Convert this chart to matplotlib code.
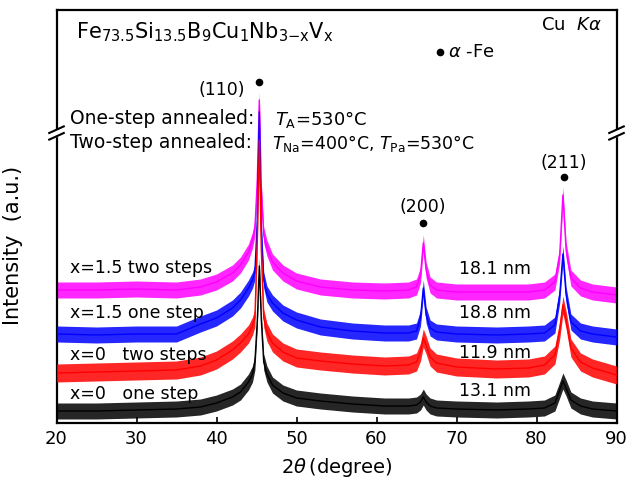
import matplotlib
matplotlib.use('Agg')
import matplotlib.pyplot as plt
from matplotlib.lines import Line2D

# ---------------- data (intensity in a.u.) ----------------
two_theta = [20, 25, 30, 35, 38, 40, 42, 43, 44, 44.5, 44.8, 45.1, 45.35, 45.6, 45.9,
             46.3, 47, 48.3, 50, 53, 57, 61, 64, 65.0, 65.5, 65.85, 66.2, 66.7, 67.5,
             70, 75, 79, 81, 82.3, 82.9, 83.3, 83.7, 84.3, 85.5, 87, 90]

x15_two_steps = [133, 133, 134, 133, 136, 141, 150, 158, 171, 183, 195, 243, 323, 233, 188,
                 175, 161, 150, 142, 136, 133, 132, 133, 136, 148, 180, 153, 138, 133,
                 131, 131, 131, 133, 141, 168, 228, 173, 145, 135, 131, 128]
x15_one_step = [89, 88, 89, 89, 99, 105, 115, 123, 135, 143, 151, 203, 311, 193, 143,
                129, 120, 110, 103, 96, 92, 90, 90, 92, 105, 135, 108, 95, 91,
                89, 88, 89, 90, 98, 128, 169, 128, 101, 92, 89, 86]
x0_two_steps = [50, 51, 52, 53, 57, 63, 73, 80, 89, 97, 105, 183, 283, 173, 105,
                91, 80, 71, 65, 62, 59, 57, 58, 61, 71, 85, 78, 66, 60,
                56, 54, 55, 58, 68, 93, 118, 103, 75, 61, 55, 48]
x0_one_step = [12, 12, 13, 14, 16, 20, 26, 31, 41, 49, 61, 103, 157, 103, 61,
               49, 38, 30, 25, 22, 19, 17, 17, 18, 21, 26, 21, 17, 15,
               14, 13, 14, 15, 20, 33, 42, 35, 23, 17, 14, 12]

# noise half-width of each trace (a.u.)
noise_halfwidth = [8, 8, 9, 8]

series_names = ['x=1.5 two steps', 'x=1.5 one step', 'x=0   two steps', 'x=0   one step']
grain_sizes = ['18.1 nm', '18.8 nm', '11.9 nm', '13.1 nm']
series_colors = ['#ff00ff', '#0000ff', '#ff0000', '#000000']
series_label_y = [155, 110, 68, 29]
size_label_y = [154, 110, 70, 32]

peak_positions = [45.3, 65.8, 83.4]
peak_labels = ['(110)', '(200)', '(211)']
peak_dot_y = [341, 200, 246]
peak_label_y = [333, 216, 260]

x_ticks = [20, 30, 40, 50, 60, 70, 80, 90]

# ---------------- figure ----------------
plt.rcParams['font.family'] = ['DejaVu Sans']
fig = plt.figure(figsize=(6.37, 4.86), dpi=100)
ax = fig.add_axes([56.5 / 637, 63 / 486, 560 / 637, 413 / 486])

all_series = [x15_two_steps, x15_one_step, x0_two_steps, x0_one_step]
for i, (ys, col, hw) in enumerate(zip(all_series, series_colors, noise_halfwidth)):
    lo = [v - hw for v in ys]
    hi = [v + hw for v in ys]
    ax.fill_between(two_theta, lo, hi, color=col, lw=0, alpha=0.85, zorder=2 + i)
    ax.plot(two_theta, ys, color=col, lw=1.0, zorder=2 + i)

ax.set_xlim(20, 90)
ax.set_ylim(0, 413)
ax.set_xticks(x_ticks)
ax.set_yticks([])
ax.tick_params(axis='x', direction='in', length=4, width=1.2, labelsize=13, pad=5)
for sp in ax.spines.values():
    sp.set_linewidth(1.6)

ax.set_xlabel(r'2$\theta\,$(degree)', fontsize=14, labelpad=6)
ax.set_ylabel('Intensity  (a.u.)', fontsize=15)
ax.yaxis.set_label_coords(-0.06, 0.43)

# series labels
for name, size, ly, sy in zip(series_names, grain_sizes, series_label_y, size_label_y):
    ax.text(21.7, ly, name, fontsize=12.5, va='center', ha='left', zorder=10)
    ax.text(74.8, sy, size, fontsize=12.5, va='center', ha='center', zorder=10)

# peak markers
ax.plot(peak_positions, peak_dot_y, 'o', color='black', ms=4.5, zorder=10)
ax.text(peak_positions[0] - 1.7, peak_label_y[0], peak_labels[0], fontsize=12.5,
        ha='right', va='center')
for px, lab, ly in zip(peak_positions[1:], peak_labels[1:], peak_label_y[1:]):
    ax.text(px, ly, lab, fontsize=12.5, ha='center', va='center')

# title / annotations
ax.text(22.4, 391,
        r'Fe$_{\mathregular{73.5}}$Si$_{\mathregular{13.5}}$B$_{\mathregular{9}}$'
        r'Cu$_{\mathregular{1}}$Nb$_{\mathregular{3{-}x}}$V$_{\mathregular{x}}$',
        fontsize=15, ha='left', va='center')
ax.text(88.2, 398, r'Cu  $K\alpha$', fontsize=13, ha='right', va='center')
ax.plot([67.9], [371], 'o', color='black', ms=4.5)
ax.text(69.0, 371, r'$\alpha$ -Fe', fontsize=13, ha='left', va='center')

ax.text(21.7, 304, 'One-step annealed:', fontsize=13.5, ha='left', va='center', zorder=10)
ax.text(47.3, 304, r'$T_{\mathregular{A}}$=530°C', fontsize=13, ha='left', va='center')
ax.text(21.7, 280, 'Two-step annealed:', fontsize=13.5, ha='left', va='center', zorder=10)
ax.text(46.9, 280, r'$T_{\mathregular{Na}}$=400°C, $T_{\mathregular{Pa}}$=530°C',
        fontsize=12.5, ha='left', va='center')

# axis-break marks on both vertical spines
brk = 290 / 413
for xa in (0.0, 1.0):
    ax.add_patch(plt.Rectangle((xa - 0.005, brk - 0.008), 0.01, 0.016,
                               transform=ax.transAxes, color='white', zorder=20,
                               clip_on=False))
    for dy in (-0.008, 0.008):
        ax.add_line(Line2D([xa - 0.013, xa + 0.013], [brk + dy - 0.008, brk + dy + 0.008],
                           transform=ax.transAxes, color='black', lw=1.5,
                           clip_on=False, zorder=21))

fig.savefig('out.png', dpi=100)
